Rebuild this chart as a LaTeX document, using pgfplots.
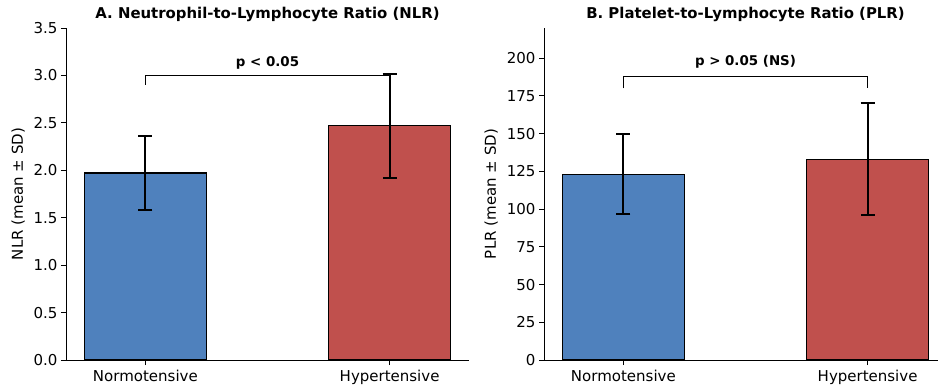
\documentclass[border=0pt]{standalone}
\usepackage{fontspec}
\setmainfont{DejaVu Sans}
\usepackage{pgfplots}
\pgfplotsset{compat=1.18}
\definecolor{nblue}{RGB}{79,129,189}
\definecolor{hred}{RGB}{192,80,77}
\pgfplotsset{
 myaxis/.style={
  scale only axis, width=403pt, height=332pt,
  axis x line*=bottom, axis y line*=left,
  axis line style={-, line width=1pt},
  xmin=-0.325, xmax=1.325, ymin=0,
  xtick={0,1}, xticklabels={Normotensive,Hypertensive},
  tick align=outside, major tick length=5pt,
  tick style={black, line width=1pt},
  ticklabel style={font=\fontsize{15}{15}\selectfont},
  xticklabel style={yshift=-2pt},
  /pgf/number format/assume math mode=true,
  title style={font=\bfseries\fontsize{14.9}{15}\selectfont, yshift=-3pt},
  ylabel style={font=\fontsize{15}{15}\selectfont, yshift=2pt},
  anchor=south west,
 },
 mybar/.style={ybar, bar width=0.5, bar shift=0pt, draw=black, line width=1.3pt,
  error bars/y dir=both, error bars/y explicit,
  error bars/error bar style={line width=2pt, black},
  error bars/error mark options={rotate=90, line width=2pt, mark size=7pt, black}},
}
\begin{document}
\begin{tikzpicture}
\useasboundingbox (0,0) rectangle (938pt,389pt);
\begin{axis}[myaxis, at={(66pt,29pt)}, ymax=3.5,
  ytick={0,0.5,...,3.5},
  yticklabel style={/pgf/number format/.cd, fixed, fixed zerofill, precision=1},
  title={A. Neutrophil-to-Lymphocyte Ratio (NLR)},
  ylabel={NLR (mean ± SD)}]
\addplot[mybar, fill=nblue] coordinates {(0,1.97) +- (0,0.39)};
\addplot[mybar, fill=hred] coordinates {(1,2.47) +- (0,0.55)};
\addplot[sharp plot, black, line width=1.2pt, mark=none] coordinates {(0,2.9) (0,3.0) (1,3.0) (1,2.9)};
\node[font=\bfseries\fontsize{13.4}{13.4}\selectfont] at (axis cs:0.5,3.13) {p < 0.05};
\end{axis}
\begin{axis}[myaxis, at={(544pt,29pt)}, ymax=220,
  ytick={0,25,...,200},
  title={B. Platelet-to-Lymphocyte Ratio (PLR)},
  ylabel={PLR (mean ± SD)}]
\addplot[mybar, fill=nblue] coordinates {(0,123) +- (0,26.5)};
\addplot[mybar, fill=hred] coordinates {(1,133) +- (0,37)};
\addplot[sharp plot, black, line width=1.2pt, mark=none] coordinates {(0,180) (0,188) (1,188) (1,180)};
\node[font=\bfseries\fontsize{13.4}{13.4}\selectfont] at (axis cs:0.5,197.5) {p > 0.05 (NS)};
\end{axis}
\end{tikzpicture}
\end{document}
